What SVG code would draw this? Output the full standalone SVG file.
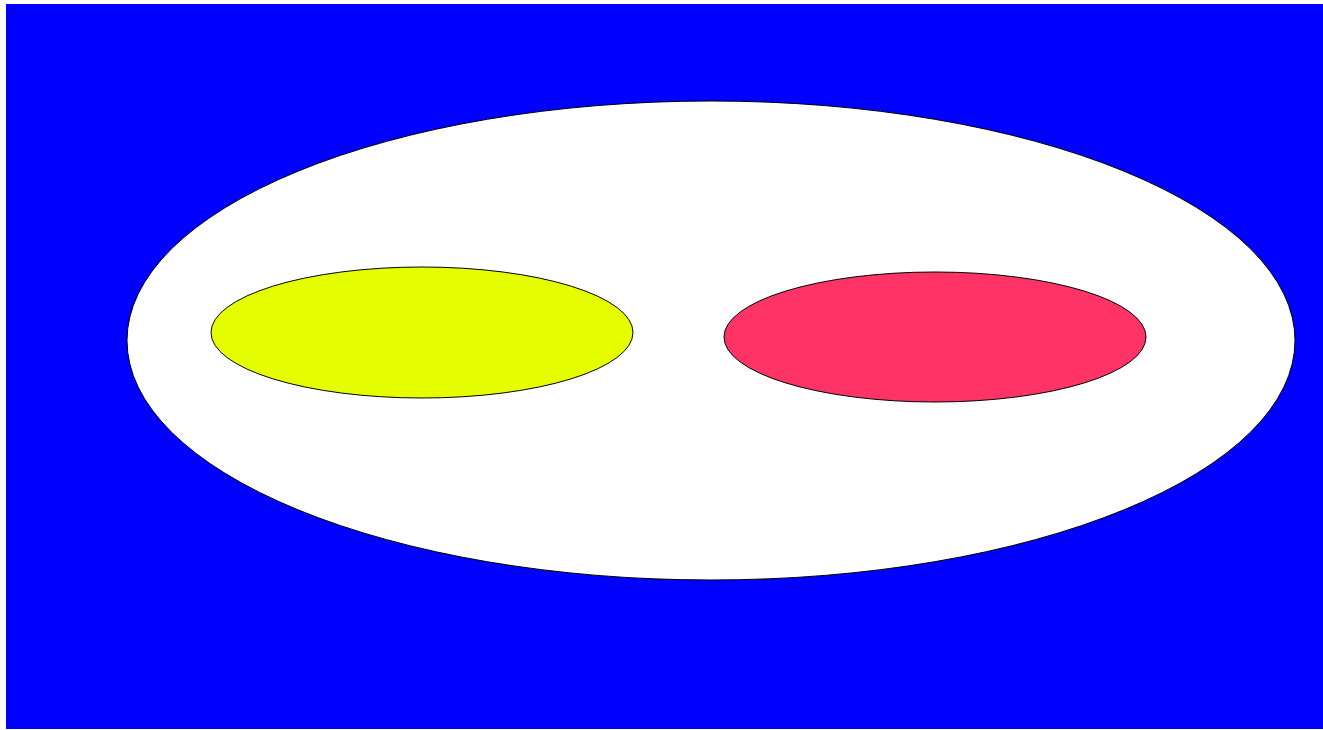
<svg xmlns="http://www.w3.org/2000/svg" width="1323" height="730" viewBox="0 0 1323 730">
<style>
.e{stroke:#000;stroke-width:1}
</style>
<rect x="0" y="0" width="1323" height="730" fill="#fff"/>
<rect id="bg" x="6" y="4" width="1317" height="725" fill="#0000ff"/>
<g id="outer"><ellipse class="e" cx="711" cy="340.5" rx="584" ry="239.5" fill="#fff"/></g>
<g id="yellow"><ellipse class="e" cx="422" cy="332.5" rx="211" ry="65.5" fill="#e5ff00"/></g>
<g id="red"><ellipse class="e" cx="935" cy="337" rx="211" ry="65" fill="#ff3366"/></g>
<g id="connectors"/>
</svg>
